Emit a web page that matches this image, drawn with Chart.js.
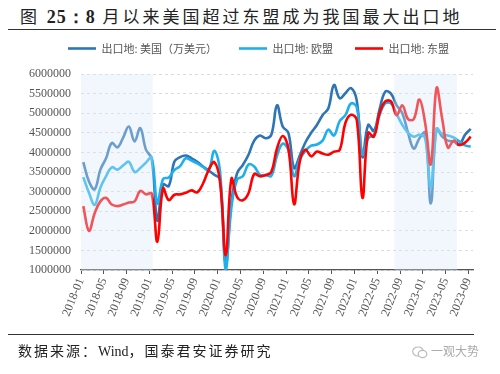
<!DOCTYPE html>
<html>
<head>
<meta charset="utf-8">
<script src="https://cdn.jsdelivr.net/npm/chart.js@4.4.0/dist/chart.umd.min.js"></script>
<style>
  body { margin: 0; background: #fff; }
  #wrap { position: relative; width: 500px; height: 374px; overflow: hidden; }
  #chart { position: absolute; left: 0; top: 0; }
  .title { position: absolute; left: 20px; top: 3px; font-family: "Noto Sans CJK SC"; font-size: 17px; letter-spacing: 3px; color: #222; white-space: nowrap; }
  .title b { font-family: "Liberation Serif"; font-size: 18px; letter-spacing: 1px; }
  .rule { position: absolute; left: 8px; border-top: 1.6px solid #333; }
  .source { position: absolute; left: 18px; top: 340px; font-family: "Noto Sans CJK SC"; font-size: 14px; letter-spacing: 2px; color: #222; white-space: nowrap; }
  .source span { font-family: "Liberation Serif"; letter-spacing: 0; }
  .mark { position: absolute; left: 412px; top: 342px; font-family: "Noto Sans CJK SC"; font-size: 12px; color: #aaa; white-space: nowrap; }
  .mark svg { vertical-align: -3px; margin-right: 3px; }
</style>
</head>
<body>
<div id="wrap">
  <div class="title">图 <b>25：</b><b>8</b> 月以来美国超过东盟成为我国最大出口地</div>
  <div class="rule" style="top:29px; width:488px;"></div>
  <canvas id="chart" width="500" height="374"></canvas>
  <div class="rule" style="top:334px; width:466px;"></div>
  <div class="source">数据来源：<span>Wind</span>，国泰君安证券研究</div>
  <div class="mark"><svg width="16" height="13" viewBox="0 0 16 13"><ellipse cx="6" cy="5.5" rx="5.3" ry="4.5" fill="none" stroke="#bbb" stroke-width="1.2"/><ellipse cx="10.5" cy="8" rx="4.3" ry="3.6" fill="#fff" stroke="#bbb" stroke-width="1.2"/></svg>一观大势</div>
</div>
<script>
// months on the x axis (2018-01 ... 2023-09)
const months = [
  '2018-01','2018-02','2018-03','2018-04','2018-05','2018-06','2018-07','2018-08','2018-09','2018-10','2018-11','2018-12',
  '2019-01','2019-02','2019-03','2019-04','2019-05','2019-06','2019-07','2019-08','2019-09','2019-10','2019-11','2019-12',
  '2020-01','2020-02','2020-03','2020-04','2020-05','2020-06','2020-07','2020-08','2020-09','2020-10','2020-11','2020-12',
  '2021-01','2021-02','2021-03','2021-04','2021-05','2021-06','2021-07','2021-08','2021-09','2021-10','2021-11','2021-12',
  '2022-01','2022-02','2022-03','2022-04','2022-05','2022-06','2022-07','2022-08','2022-09','2022-10','2022-11','2022-12',
  '2023-01','2023-02','2023-03','2023-04','2023-05','2023-06','2023-07','2023-08','2023-09'
];

// exports, 万美元
const usExports = [
  3750000, 3260000, 3060000, 3560000, 3850000, 4240000, 4130000, 4380000, 4660000, 4280000, 4620000, 4070000,
  3840000, 2260000, 3180000, 3140000, 3770000, 3880000, 3920000, 3850000, 3760000, 3640000, 3540000, 3430000,
  3310000, 1150000, 2750000, 3470000, 3680000, 3940000, 4300000, 4430000, 4360000, 4450000, 5200000, 4660000,
  4500000, 3600000, 3920000, 4260000, 4500000, 4700000, 4950000, 5120000, 5720000, 5380000, 5510000, 5640000,
  5320000, 3880000, 4700000, 4550000, 5100000, 5550000, 5500000, 5200000, 5000000, 4500000, 4100000, 4360000,
  4500000, 2700000, 4600000, 4400000, 4300000, 4280000, 4190000, 4450000, 4600000
];
const euExports = [
  3370000, 2970000, 2660000, 3100000, 3390000, 3620000, 3560000, 3670000, 3760000, 3500000, 3600000, 3740000,
  3870000, 2700000, 3320000, 3360000, 3550000, 3650000, 3850000, 3790000, 3720000, 3630000, 3550000, 4040000,
  3520000, 1000000, 2600000, 3310000, 3390000, 3690000, 3640000, 3430000, 3420000, 3400000, 3920000, 4220000,
  4060000, 3390000, 3830000, 4040000, 4170000, 4200000, 4300000, 4580000, 4430000, 4800000, 4950000, 5250000,
  5150000, 3950000, 4360000, 4450000, 4950000, 5250000, 5250000, 4980000, 4700000, 4500000, 4400000, 4450000,
  4360000, 3100000, 4600000, 4470000, 4430000, 4380000, 4280000, 4180000, 4150000
];
const aseanExports = [
  2630000, 2000000, 2450000, 2750000, 2840000, 2670000, 2630000, 2670000, 2720000, 2750000, 3020000, 2930000,
  2950000, 1720000, 3080000, 2780000, 2920000, 2930000, 2970000, 3030000, 2980000, 3200000, 3550000, 3750000,
  3250000, 1380000, 3330000, 2860000, 2780000, 2960000, 3450000, 3390000, 3420000, 3500000, 4100000, 4420000,
  4100000, 2680000, 3770000, 4070000, 3900000, 4020000, 3970000, 3940000, 4020000, 4060000, 4750000, 4960000,
  4830000, 2840000, 4500000, 4400000, 5000000, 5300000, 5300000, 4950000, 5200000, 4850000, 4850000, 5350000,
  4750000, 3700000, 5640000, 4850000, 4120000, 4300000, 4190000, 4250000, 4400000
];

const seriesNames = ['出口地: 美国（万美元）', '出口地: 欧盟', '出口地: 东盟'];
const seriesColors = ['#2e75b6', '#1fb0ec', '#ff0000'];

// shaded periods, in x-axis units (one unit = one month, 0 = 2018-01 tick)
const shadedRanges = [[0, 12.6], [55, 66]];

const pointShift = 0.4;   // points sit a little right of the month tick
const tickStep = 4;

function toPoints(arr) {
  return arr.map((v, i) => ({ x: i + pointShift, y: v }));
}

// light wash drawn over the lines in the shaded periods
const shadeOverlay = {
  id: 'shadeOverlay',
  afterDatasetsDraw(chart) {
    const { ctx, chartArea, scales: { x } } = chart;
    ctx.save();
    ctx.fillStyle = 'rgba(215, 232, 246, 0.36)';
    shadedRanges.forEach(([a, b]) => {
      const x0 = x.getPixelForValue(a);
      const x1 = x.getPixelForValue(b);
      ctx.fillRect(x0, chartArea.top, x1 - x0, chartArea.bottom - chartArea.top);
    });
    ctx.restore();
  }
};

// nudge the legend into place
const legendNudge = {
  id: 'legendNudge',
  afterLayout(chart) {
    const lg = chart.legend;
    lg.left += 22; lg.right += 22;
    lg.top -= 10; lg.bottom -= 10;
  }
};

const datasets = [usExports, euExports, aseanExports].map((arr, k) => ({
  label: seriesNames[k],
  data: toPoints(arr),
  borderColor: seriesColors[k],
  backgroundColor: seriesColors[k],
  borderWidth: 2.6,
  pointRadius: 0,
  pointStyle: 'line',
  tension: 0.4,
  order: 3 - k
}));

var ctx = document.getElementById('chart').getContext('2d');
var chart = new Chart(ctx, {
  type: 'line',
  data: { datasets: datasets },
  options: {
    responsive: false,
    animation: false,
    layout: { padding: { top: 31, right: 27, left: 0, bottom: 0 } },
    plugins: {
      legend: {
        position: 'top',
        labels: {
          usePointStyle: true,
          pointStyleWidth: 28,
          padding: 22,
          color: '#555',
          font: { family: 'Noto Sans CJK SC', size: 11 },
          sort: (a, b) => a.datasetIndex - b.datasetIndex
        }
      },
      tooltip: { enabled: false }
    },
    scales: {
      x: {
        type: 'linear',
        min: 0,
        max: 68.8,
        afterFit: (s) => { s.height = 104; },
        afterBuildTicks: (s) => { s.ticks = s.ticks.filter(t => t.value % tickStep === 0); },
        ticks: {
          stepSize: tickStep,
          includeBounds: false,
          autoSkip: false,
          minRotation: 68,
          maxRotation: 68,
          padding: 2,
          color: '#555',
          font: { family: 'Liberation Serif', size: 12 },
          callback: (v) => months[v]
        },
        grid: { drawOnChartArea: false, drawTicks: true, tickLength: 4, color: '#555' },
        border: { display: true, color: '#555', width: 1.2 }
      },
      y: {
        min: 1000000,
        max: 6000000,
        afterFit: (s) => { s.width = 81; },
        ticks: {
          stepSize: 500000,
          padding: 10,
          color: '#555',
          font: { family: 'Liberation Serif', size: 12 },
          callback: (v) => String(v)
        },
        grid: { drawTicks: false, color: '#dcdcdc' },
        border: { display: false, dash: [3, 3] }
      }
    }
  },
  plugins: [shadeOverlay, legendNudge]
});
</script>
</body>
</html>
